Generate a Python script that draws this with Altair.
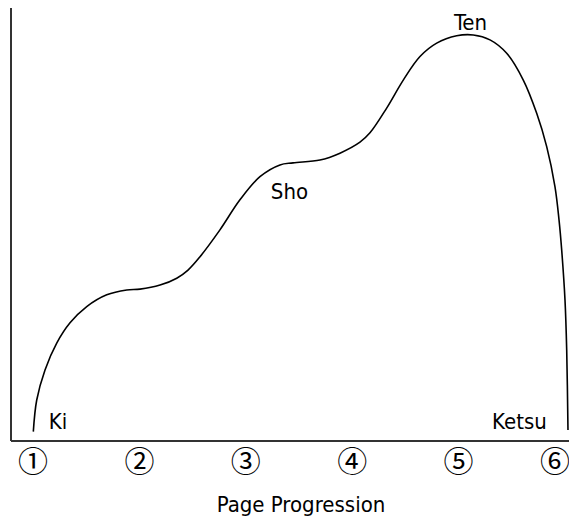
import altair as alt
import pandas as pd

# Curve (page progression vs. dramatic tension)
curve_x = [1.003, 1.035, 1.113, 1.223, 1.348, 1.505, 1.693, 1.881, 2.006, 2.194,
           2.351, 2.457, 2.570, 2.757, 2.945, 3.133, 3.321, 3.444, 3.697, 3.885,
           4.073, 4.167, 4.324, 4.480, 4.637, 4.794, 4.982, 5.138, 5.295, 5.452,
           5.608, 5.734, 5.828, 5.906, 5.944, 5.969, 6.000, 6.016, 6.028]
curve_y = [2.3, 10.1, 17.5, 24.1, 29.1, 33.1, 36.0, 37.2, 37.4, 38.4,
           40.1, 42.1, 45.4, 52.0, 59.4, 65.1, 68.0, 68.5, 69.2, 70.9,
           73.6, 75.9, 82.0, 88.9, 94.7, 98.0, 99.8, 100.0, 98.8, 95.5,
           88.9, 80.7, 72.5, 62.6, 54.4, 47.0, 34.7, 22.4, 2.7]

# Stage labels
stage_names = ["Ki", "Sho", "Ten", "Ketsu"]
stage_x = [1.235, 3.41, 5.112, 5.572]
stage_y = [3.0, 59.5, 101.3, 3.0]

# Tick labels
tick_pos = [1, 2, 3, 4, 5, 6]
tick_labels = ["①", "②", "③", "④", "⑤", "⑥"]

x_title = "Page Progression"

FONT = "Liberation Sans Narrow, DejaVu Sans Condensed, Roboto, sans-serif"
CIRC_FONT = "Noto Sans CJK JP, DejaVu Sans"

curve_df = pd.DataFrame({"x": curve_x, "y": curve_y, "i": list(range(len(curve_x)))})
stage_df = pd.DataFrame({"name": stage_names, "x": stage_x, "y": stage_y})
tick_df = pd.DataFrame({"x": tick_pos, "label": tick_labels})
one = pd.DataFrame({"k": [0]})

xs = alt.Scale(domain=[1, 6], range=[25, 557])
ys = alt.Scale(domain=[0, 100], range=[433, 27])

line = alt.Chart(curve_df).mark_line(
    color="black", strokeWidth=1.6, interpolate="catmull-rom"
).encode(
    x=alt.X("x:Q", scale=xs, axis=None),
    y=alt.Y("y:Q", scale=ys, axis=None),
    order="i:Q",
)

stages = alt.Chart(stage_df).mark_text(
    font=FONT, fontSize=22, color="black", baseline="alphabetic", align="center"
).encode(
    x=alt.X("x:Q", scale=xs, axis=None),
    y=alt.Y("y:Q", scale=ys, axis=None),
    text="name:N",
)

ticks_main = alt.Chart(tick_df).transform_filter(alt.datum.x < 6).mark_text(
    font=CIRC_FONT, fontSize=30, color="black", baseline="middle", align="center"
).encode(
    x=alt.X("x:Q", scale=xs, axis=None),
    y=alt.value(455),
    text="label:N",
)
# last label nudged inward so it is not cut by the page edge
ticks_last = alt.Chart(tick_df).transform_filter(alt.datum.x >= 6).mark_text(
    font=CIRC_FONT, fontSize=30, color="black", baseline="middle", align="center", dx=-10
).encode(
    x=alt.X("x:Q", scale=xs, axis=None),
    y=alt.value(455),
    text="label:N",
)

title = alt.Chart(one).mark_text(
    font=FONT, fontSize=22, color="black", baseline="alphabetic", align="center"
).encode(
    x=alt.value(293), y=alt.value(504), text=alt.value(x_title)
)

vaxis = alt.Chart(one).mark_rule(color="#333333", strokeWidth=2).encode(
    x=alt.value(3), y=alt.value(0), y2=alt.value(433)
)
haxis = alt.Chart(one).mark_rule(color="#333333", strokeWidth=2).encode(
    x=alt.value(3), x2=alt.value(561), y=alt.value(433)
)

chart = alt.layer(vaxis, haxis, line, stages, ticks_main, ticks_last, title).properties(
    width=561, height=508, autosize=alt.AutoSizeParams(type="none"), padding=0
).configure_view(stroke=None)

chart.save("out.html", embed_options={"renderer": "svg", "actions": False})
